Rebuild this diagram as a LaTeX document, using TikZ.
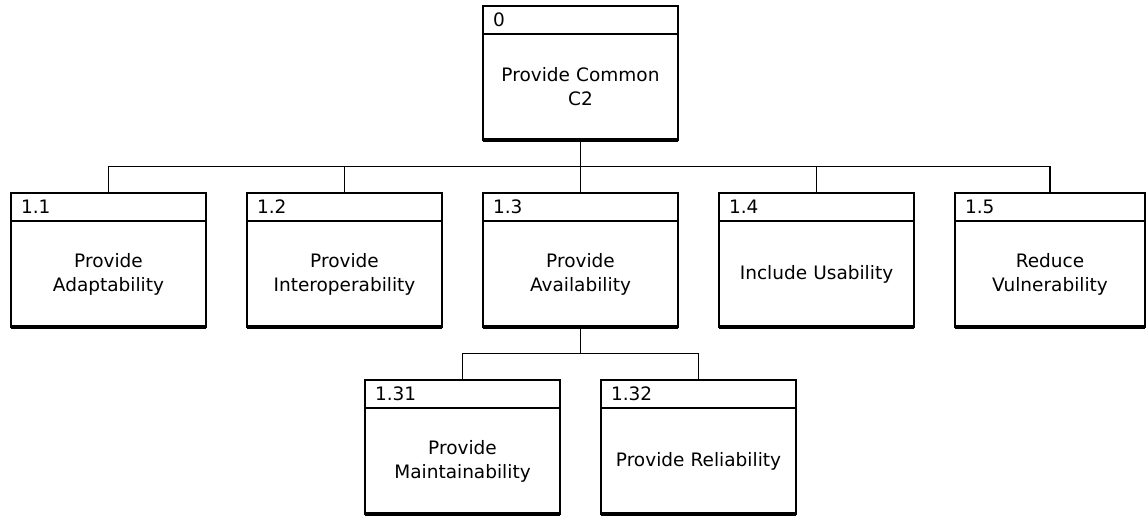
\documentclass[tikz,border=0pt]{standalone}
\usepackage{fontspec}
\setmainfont{DejaVu Sans}
\usetikzlibrary{positioning,calc}

\tikzset{
  hdr/.style={draw, line width=1.5pt, outer sep=0pt, anchor=north west, minimum height=28pt,
    text width=175pt, inner xsep=10pt, inner ysep=0pt, align=left,
    font=\fontsize{18.5}{24}\selectfont},
  bodybox/.style={draw, line width=1.5pt, outer sep=0pt, below=0pt of #1, minimum height=106pt,
    text width=181pt, inner xsep=7pt, inner ysep=0pt, align=center,
    font=\fontsize{18.5}{24}\selectfont},
  baseline/.style={line width=3.5pt},
  link/.style={line width=1.6pt},
}

\newcommand{\fnbox}[5]{%
  % #1 name, #2 x of left edge, #3 y of top edge, #4 number, #5 function text
  \node[hdr] (h#1) at (#2,#3) {#4};
  \node[bodybox=h#1] (b#1) {#5};
  \draw[baseline] (b#1.south west) -- (b#1.south east);
}

\begin{document}
\begin{tikzpicture}[x=1pt,y=-1pt]
  \useasboundingbox (0,0) rectangle (1146,516);

  % top-level function
  \fnbox{0}{483}{6}{0}{Provide Common\\C2}

  % first-level functions
  \fnbox{11}{11}{193}{1.1}{Provide\\Adaptability}
  \fnbox{12}{247}{193}{1.2}{Provide\\Interoperability}
  \fnbox{13}{483}{193}{1.3}{Provide\\Availability}
  \fnbox{14}{719}{193}{1.4}{Include Usability}
  \node[hdr, text width=170pt] (h15) at (955,193) {1.5};
  \node[bodybox=h15, text width=176pt] (b15) {Reduce\\Vulnerability};
  \draw[baseline] (b15.south west) -- (b15.south east);

  % second-level functions under 1.3
  \fnbox{131}{365}{380}{1.31}{Provide\\Maintainability}
  \fnbox{132}{601}{380}{1.32}{Provide Reliability}

  % tree connectors
  \foreach \c in {11,12,13,14,15}
    \draw[link] (b0.south) |- ($(b0.south)!.5!(h\c.north)$) -| (h\c.north);
  \foreach \c in {131,132}
    \draw[link] (b13.south) |- ($(b13.south)!.5!(h\c.north)$) -| (h\c.north);
\end{tikzpicture}
\end{document}
